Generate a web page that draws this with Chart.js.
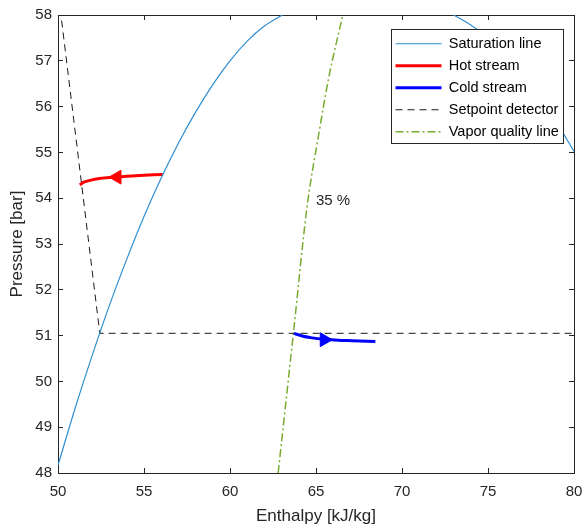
<!DOCTYPE html>
<html>
<head>
<meta charset="utf-8">
<script src="https://cdn.jsdelivr.net/npm/chart.js@4/dist/chart.umd.min.js"></script>
<style>
  html, body { margin: 0; padding: 0; background: #fff; }
  canvas { display: block; }
</style>
</head>
<body>
<canvas id="chart" width="583" height="530"></canvas>
<script>
// data (enthalpy kJ/kg, pressure bar)
const satEnthalpy = [50, 51, 52, 53, 54, 55, 56, 57, 58, 59, 60, 61, 62, 63, 64, 65, 66, 67, 68, 69, 70, 71, 72, 73, 74, 75, 76, 77, 78, 79, 80];
const satPressure = [48.17, 49.42, 50.58, 51.67, 52.67, 53.6, 54.44, 55.2, 55.88, 56.48, 57.0, 57.43, 57.76, 57.99, 58.2, 58.37, 58.5, 58.58, 58.6, 58.57, 58.5, 58.38, 58.21, 58.0, 57.78, 57.5, 57.14, 56.72, 56.22, 55.65, 55.02];

const hotEnthalpy = [56.10, 55.0, 54.0, 53.0, 52.4, 51.85, 51.5, 51.27];
const hotPressure = [54.52, 54.5, 54.48, 54.45, 54.43, 54.39, 54.35, 54.29];

const coldEnthalpy = [63.72, 64.2, 64.78, 65.5, 66.3, 67.1, 68.45];
const coldPressure = [51.05, 50.99, 50.95, 50.92, 50.9, 50.89, 50.87];

const setpointEnthalpy = [50.21, 52.43, 80];
const setpointPressure = [57.88, 51.05, 51.05];

const qualityEnthalpy = [62.8, 63.68, 64.48, 65.17, 65.75, 66.56];
const qualityPressure = [48.0, 51.03, 53.81, 55.42, 56.65, 58.0];

// arrowheads on the streams
const hotArrowEnthalpy = [53.43];
const hotArrowPressure = [54.46];
const coldArrowEnthalpy = [65.48];
const coldArrowPressure = [50.91];

// quality annotation
const qualityLabels = ['35 %'];
const qualityLabelEnthalpy = [65.0];
const qualityLabelPressure = [53.95];

const xTicks = [50, 55, 60, 65, 70, 75, 80];
const yTicks = [48, 49, 50, 51, 52, 53, 54, 55, 56, 57, 58];

const FONT = '"Liberation Sans", Arial, Helvetica, sans-serif';
const INK = '#262626';
Chart.defaults.font.family = FONT;

const toPoints = (xs, ys) => xs.map((x, i) => ({ x: x, y: ys[i] }));

const zeroPad = s => { s.paddingLeft = 0; s.paddingRight = 0; s.paddingTop = 0; s.paddingBottom = 0; };

// text labels + legend frame drawn on top of the lines (matlab style)
const overlay = {
    id: 'overlay',
    afterLayout(chart) {
        const lg = chart.legend, ca = chart.chartArea;
        lg.left = ca.right - 186;
        lg.top = ca.top + 14;
        lg.right = ca.right;
        lg.bottom = ca.bottom;
    },
    afterDatasetsDraw(chart) {
        const ctx = chart.ctx, xs = chart.scales.x, ys = chart.scales.y;
        ctx.save();
        ctx.fillStyle = INK;
        ctx.font = '15px ' + FONT;
        ctx.textAlign = 'left';
        ctx.textBaseline = 'middle';
        qualityLabels.forEach((t, i) => {
            ctx.fillText(t, xs.getPixelForValue(qualityLabelEnthalpy[i]), ys.getPixelForValue(qualityLabelPressure[i]));
        });
        // legend box
        const lg = chart.legend, ca = chart.chartArea;
        const l = lg.left + 3.5, t = lg.top + 0.5, r = ca.right - 10.5, b = lg.top + 114.5;
        ctx.fillStyle = '#fff';
        ctx.fillRect(l, t, r - l, b - t);
        ctx.strokeStyle = INK;
        ctx.lineWidth = 1;
        ctx.strokeRect(l, t, r - l, b - t);
        ctx.restore();
        lg.draw();
    }
};

const lineSet = (label, xs, ys, color, width, dash, smooth) => ({
    label: label,
    data: toPoints(xs, ys),
    showLine: true,
    borderColor: color,
    backgroundColor: color,
    borderWidth: width,
    borderDash: dash,
    pointRadius: 0,
    cubicInterpolationMode: smooth === 'monotone' ? 'monotone' : 'default',
    tension: smooth === 'monotone' ? 0 : smooth,
    order: 1
});

const arrowSet = (xs, ys, color, rot) => ({
    label: '',
    data: toPoints(xs, ys),
    showLine: false,
    pointStyle: 'triangle',
    rotation: rot,
    pointRadius: 8,
    pointBackgroundColor: color,
    pointBorderColor: color,
    pointBorderWidth: 1,
    order: 0
});

new Chart(document.getElementById('chart'), {
    type: 'scatter',
    data: {
        datasets: [
            lineSet('Saturation line', satEnthalpy, satPressure, '#2f8fd2', 1.2, [], 'monotone'),
            lineSet('Hot stream', hotEnthalpy, hotPressure, '#ff0000', 3, [], 0.3),
            lineSet('Cold stream', coldEnthalpy, coldPressure, '#0000ff', 3, [], 'monotone'),
            lineSet('Setpoint detector', setpointEnthalpy, setpointPressure, '#1a1a1a', 1, [7, 5], 0),
            lineSet('Vapor quality line', qualityEnthalpy, qualityPressure, '#77ac30', 1.5, [8, 3, 2, 3], 'monotone'),
            arrowSet(hotArrowEnthalpy, hotArrowPressure, '#ff0000', -90),
            arrowSet(coldArrowEnthalpy, coldArrowPressure, '#0000ff', 90)
        ]
    },
    options: {
        responsive: false,
        animation: false,
        events: [],
        layout: { padding: { top: 15, right: 7, left: 0, bottom: 0 } },
        scales: {
            x: {
                type: 'linear', position: 'bottom', min: xTicks[0], max: xTicks[xTicks.length - 1],
                afterBuildTicks: s => { s.ticks = xTicks.map(v => ({ value: v })); },
                ticks: { color: INK, font: { size: 15 }, padding: 15, maxRotation: 0 },
                grid: { drawOnChartArea: false, tickLength: -5, color: INK },
                border: { color: INK },
                title: { display: true, text: 'Enthalpy [kJ/kg]', color: INK, font: { size: 17 }, padding: { top: 0, bottom: 3 } },
                afterFit: s => { s.height = 57; zeroPad(s); }
            },
            y: {
                type: 'linear', position: 'left', min: yTicks[0], max: yTicks[yTicks.length - 1],
                afterBuildTicks: s => { s.ticks = yTicks.map(v => ({ value: v })); },
                ticks: { color: INK, font: { size: 15 }, padding: 11 },
                grid: { drawOnChartArea: false, tickLength: -5, color: INK },
                border: { color: INK },
                title: { display: true, text: 'Pressure [bar]', color: INK, font: { size: 17 }, padding: { top: 7, bottom: 0 } },
                afterFit: s => { s.width = 58; zeroPad(s); }
            },
            x2: {
                type: 'linear', position: 'top', min: xTicks[0], max: xTicks[xTicks.length - 1],
                afterBuildTicks: s => { s.ticks = xTicks.map(v => ({ value: v })); },
                ticks: { display: false },
                grid: { drawOnChartArea: false, tickLength: -5, color: INK },
                border: { color: INK },
                afterFit: s => { s.height = 0; zeroPad(s); }
            },
            y2: {
                type: 'linear', position: 'right', min: yTicks[0], max: yTicks[yTicks.length - 1],
                afterBuildTicks: s => { s.ticks = yTicks.map(v => ({ value: v })); },
                ticks: { display: false },
                grid: { drawOnChartArea: false, tickLength: -5, color: INK },
                border: { color: INK },
                afterFit: s => { s.width = 0; zeroPad(s); }
            }
        },
        plugins: {
            tooltip: { enabled: false },
            legend: {
                position: 'chartArea',
                align: 'start',
                labels: {
                    usePointStyle: true,
                    pointStyleWidth: 46,
                    color: '#000',
                    font: { size: 14.5 },
                    padding: 7.5,
                    generateLabels: chart => chart.data.datasets
                        .map((ds, i) => ({
                            text: ds.label,
                            datasetIndex: i,
                            strokeStyle: ds.borderColor,
                            fillStyle: ds.borderColor,
                            lineWidth: ds.borderWidth,
                            lineDash: ds.borderDash,
                            pointStyle: 'line',
                            hidden: false,
                            fontColor: '#000'
                        }))
                        .filter(it => it.text !== '')
                }
            }
        }
    },
    plugins: [overlay]
});
</script>
</body>
</html>
